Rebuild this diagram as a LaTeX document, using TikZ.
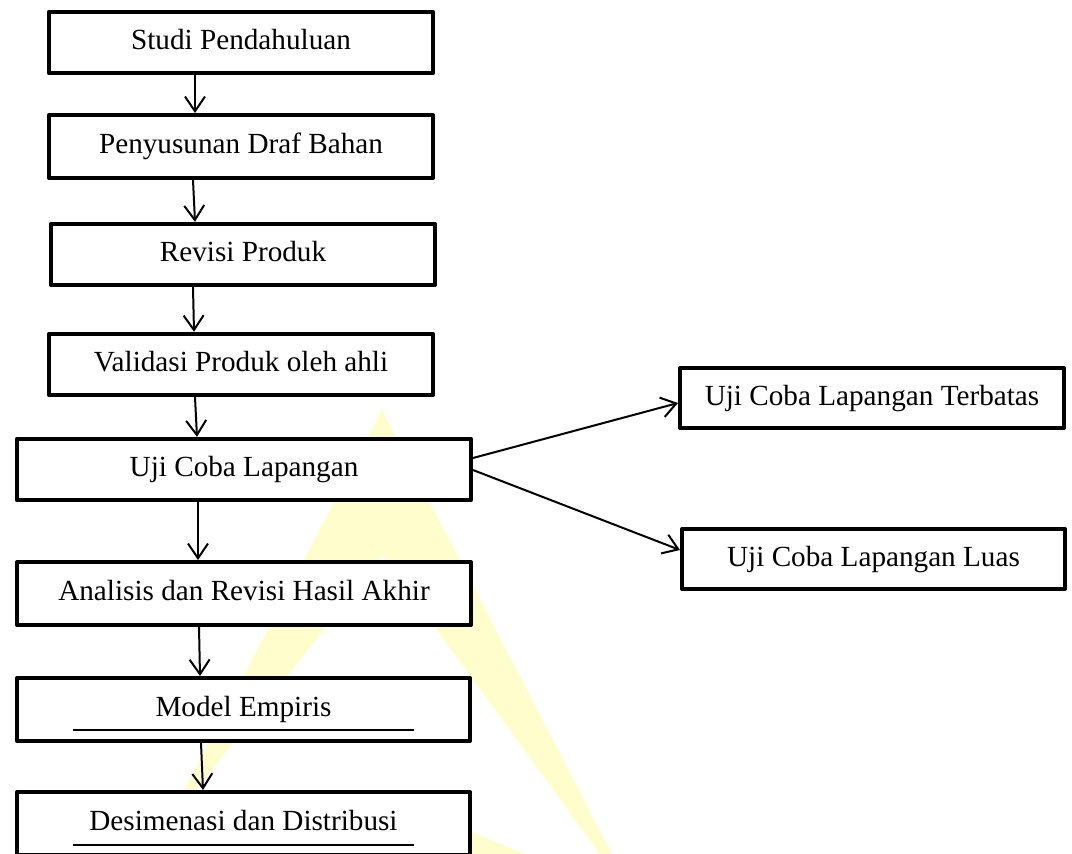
\documentclass[tikz,border=0pt]{standalone}
\usepackage{fontspec}
\setmainfont{Liberation Serif}
\usetikzlibrary{arrows.meta,calc}
\definecolor{wm}{RGB}{255,253,204}
\tikzset{
  box/.style={draw, line width=3pt, line join=round, fill=white, inner sep=0pt,
    font=\fontsize{21.9pt}{26pt}\selectfont, text height=15.3pt, text depth=4.4pt,
    minimum height=46pt},
  arr/.style={line width=1.5pt, -{Straight Barb[length=11pt,width=15pt,line width=1.5pt]}},
  uline/.style={line width=1pt},
}
\begin{document}
\begin{tikzpicture}[x=0.75pt,y=-0.75pt]
\useasboundingbox (0,0) rectangle (1072,854);
% watermark
\fill[wm] (382,410) -- (612,854) -- (600,854) -- (383,556) -- (163,831) -- cycle;
\fill[wm] (440,819) -- (525,854) -- (440,854) -- cycle;
% boxes
\node[box, minimum width=288pt] (b1) at (241,42.5) {Studi Pendahuluan};
\node[box, minimum width=288pt, minimum height=47.25pt] (b2) at (241,146.5) {Penyusunan Draf Bahan};
\node[box, minimum width=288pt] (b3) at (243,254.5) {Revisi Produk};
\node[box, minimum width=288pt] (b4) at (241,364.5) {Validasi Produk oleh ahli};
\node[box, minimum width=340.5pt] (b5) at (244,469.5) {Uji Coba Lapangan};
\node[box, minimum width=340.5pt, minimum height=47.25pt] (b6) at (244,593.5) {Analisis dan Revisi Hasil Akhir};
\node[box, minimum width=339.75pt, minimum height=47.25pt] (b7) at (243.5,709.5) {Model Empiris};
\node[box, minimum width=339.75pt, minimum height=47.25pt] (b8) at (243.5,823.5) {Desimenasi dan Distribusi};
\node[box, minimum width=288pt, minimum height=45pt] (bT) at (872,398) {Uji Coba Lapangan Terbatas};
\node[box, minimum width=287.25pt, minimum height=45pt] (bL) at (873.5,559) {Uji Coba Lapangan Luas};
% underlines
\draw[uline] ($(b7.south west)+(58,-13)$) -- ($(b7.south west)+(399,-13)$);
\draw[uline] ($(b8.south west)+(58,-12)$) -- ($(b8.south west)+(399,-12)$);
% arrows
\draw[arr] ($(b1.south west)+(148,0)$) -- ($(b2.north west)+(148,0)$);
\draw[arr] ($(b2.south west)+(146,0)$) -- ($(b3.north west)+(146,0)$);
\draw[arr] ($(b3.south west)+(144,0)$) -- ($(b4.north west)+(147,0)$);
\draw[arr] ($(b4.south west)+(148,0)$) -- ($(b5.north west)+(182,0)$);
\draw[arr] ($(b5.south west)+(183,0)$) -- ($(b6.north west)+(183,0)$);
\draw[arr] ($(b6.south west)+(184,0)$) -- ($(b7.north west)+(185,0)$);
\draw[arr] ($(b7.south west)+(186,0)$) -- ($(b8.north west)+(188,0)$);
\draw[arr] ($(b5.east)+(0,-11.5)$) -- ($(bT.west)+(0,5)$);
\draw[arr] ($(b5.east)+(0,0.5)$) -- ($(bL.west)+(0,-9)$);
\end{tikzpicture}
\end{document}
